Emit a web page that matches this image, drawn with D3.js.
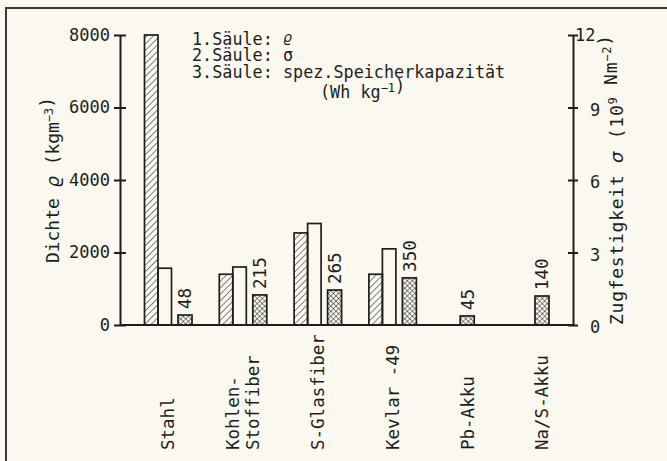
<!DOCTYPE html>
<html>
<head>
<meta charset="utf-8">
<script src="https://cdn.jsdelivr.net/npm/d3@7"></script>
<style>
  body { margin: 0; background: #faf8ef; }
  svg { display: block; }
  text { font-family: "DejaVu Sans Mono", "Liberation Mono", monospace; fill: #1e1e1e; }
  .greek { font-family: "DejaVu Sans", "Noto Sans", sans-serif; font-style: italic; }
</style>
</head>
<body>
<div id="chart"></div>
<script>
// categories (multi-line labels) and values
var categories = [["Stahl"], ["Kohlen-", "Stoffiber"], ["S-Glasfiber"], ["Kevlar -49"], ["Pb-Akku"], ["Na/S-Akku"]];
var density = [8000, 1400, 2540, 1400, null, null];        // kg m^-3, 1. Saeule
var strength = [2.35, 2.4, 4.2, 3.15, null, null];          // 10^9 N m^-2, 2. Saeule
var capacity = [48, 215, 265, 350, 45, 140];                // Wh/kg, label of 3. Saeule
var capacityBar = [275, 830, 965, 1300, 250, 800];          // drawn height of 3. Saeule, on density scale
var leftTicks = [0, 2000, 4000, 6000, 8000];
var rightTicks = [0, 3, 6, 9, 12];

var width = 667
  , height = 461
  , ink = "#1e1e1e"
  , paper = "#faf8ef"
  , barW = 13.5
  ;

var svg = d3.select("#chart").append("svg")
    .attr("width", width)
    .attr("height", height);

var defs = svg.append("defs");

defs.append("pattern")
    .attr("id", "hatch")
    .attr("patternUnits", "userSpaceOnUse")
    .attr("width", 4.6).attr("height", 4.6)
    .attr("patternTransform", "rotate(45)")
  .append("line")
    .attr("x1", 0).attr("y1", 0).attr("x2", 0).attr("y2", 4.6)
    .attr("stroke", ink).attr("stroke-width", 1.1);

var cross = defs.append("pattern")
    .attr("id", "cross")
    .attr("patternUnits", "userSpaceOnUse")
    .attr("width", 3.6).attr("height", 3.6)
    .attr("patternTransform", "rotate(45)");
cross.append("rect").attr("width", 3.6).attr("height", 3.6).attr("fill", paper);
cross.append("line").attr("x1", 0).attr("y1", 0).attr("x2", 0).attr("y2", 3.6)
    .attr("stroke", ink).attr("stroke-width", 1);
cross.append("line").attr("x1", 0).attr("y1", 0).attr("x2", 3.6).attr("y2", 0)
    .attr("stroke", ink).attr("stroke-width", 1);

// frame of the scanned figure
svg.append("path")
    .attr("d", "M6,461 L6,8 L667,8")
    .attr("fill", "none")
    .attr("stroke", "#3a3a3a")
    .attr("stroke-width", 2);

var x = d3.scalePoint()
    .domain(d3.range(categories.length))
    .range([168, 542]);

var yL = d3.scaleLinear().domain([0, 8000]).range([325, 35]);
var yR = d3.scaleLinear().domain([0, 12]).range([325, 35]);

var axisLeftX = 120, axisRightX = 573;

// bars
var gBars = svg.append("g");

density.forEach(function(v, i) {
  if (v == null) return;
  gBars.append("rect")
      .attr("x", x(i) - 23.5)
      .attr("y", yL(v))
      .attr("width", barW)
      .attr("height", yL(0) - yL(v))
      .attr("fill", "url(#hatch)")
      .attr("stroke", ink).attr("stroke-width", 1.7);
});

strength.forEach(function(v, i) {
  if (v == null) return;
  gBars.append("rect")
      .attr("x", x(i) - 10)
      .attr("y", yR(v))
      .attr("width", barW)
      .attr("height", yR(0) - yR(v))
      .attr("fill", "none")
      .attr("stroke", ink).attr("stroke-width", 1.7);
});

capacityBar.forEach(function(v, i) {
  var cx = density[i] == null ? x(i) : x(i) + 17;
  gBars.append("rect")
      .attr("x", cx - 7)
      .attr("y", yL(v))
      .attr("width", 14)
      .attr("height", yL(0) - yL(v))
      .attr("fill", "url(#cross)")
      .attr("stroke", ink).attr("stroke-width", 1.7);
  gBars.append("text")
      .attr("transform", "translate(" + cx + "," + (yL(v) - 6) + ") rotate(-90)")
      .attr("dy", "0.36em")
      .attr("font-size", 17.5)
      .text(capacity[i]);
});

// axes
function styleAxis(g) {
  g.attr("font-family", null).attr("font-size", null);
  g.select(".domain").attr("stroke", ink).attr("stroke-width", 2);
  g.selectAll(".tick line").attr("stroke", ink).attr("stroke-width", 2);
  g.selectAll(".tick text").attr("font-size", 17).attr("fill", ink);
}

var gLeft = svg.append("g")
    .attr("transform", "translate(" + axisLeftX + ",0)")
    .call(d3.axisLeft(yL).tickValues(leftTicks).tickFormat(d3.format("d"))
      .tickSizeInner(6).tickSizeOuter(0).tickPadding(4))
    .call(styleAxis);
gLeft.selectAll(".tick line").attr("x1", 6);

var gRight = svg.append("g")
    .attr("transform", "translate(" + axisRightX + ",0)")
    .call(d3.axisRight(yR).tickValues(rightTicks).tickFormat(d3.format("d"))
      .tickSizeInner(5).tickSizeOuter(0).tickPadding(12))
    .call(styleAxis);
gRight.selectAll(".tick line").attr("x1", -5);
gRight.selectAll(".tick text").attr("dy", "0.45em");
gRight.selectAll(".tick text").filter(function(d) { return d === 12; }).attr("dx", -15).attr("dy", "0.3em");

svg.append("line")
    .attr("x1", axisLeftX).attr("x2", axisRightX)
    .attr("y1", yL(0)).attr("y2", yL(0))
    .attr("stroke", ink).attr("stroke-width", 2);

// category labels
categories.forEach(function(lines, i) {
  var t = svg.append("text")
      .attr("transform", "translate(" + x(i) + ",450) rotate(-90)")
      .attr("font-size", 17.5);
  lines.forEach(function(line, k) {
    t.append("tspan")
        .attr("x", 0)
        .attr("dy", k === 0 ? (0.36 - (lines.length - 1) * 0.57) + "em" : "1.14em")
        .text(line);
  });
});

// text with superscripts / greek letters
function addRich(t, parts) {
  parts.forEach(function(p) {
    if (p.sup) {
      t.append("tspan").attr("font-size", 12).attr("dy", -6).text(p.sup);
      t.append("tspan").attr("dy", 6).text("");
    } else if (p.greek) {
      t.append("tspan").attr("class", "greek").text(p.greek);
    } else {
      t.append("tspan").text(p.t);
    }
  });
}

// axis titles
var tl = svg.append("text")
    .attr("transform", "translate(59,263) rotate(-90)")
    .attr("font-size", 18)
    .attr("textLength", 166)
    .attr("lengthAdjust", "spacing");
addRich(tl, [{t: "Dichte "}, {greek: "ϱ"}, {t: " (kgm"}, {sup: "−3"}, {t: ")"}]);

var tr = svg.append("text")
    .attr("transform", "translate(623,325) rotate(-90)")
    .attr("font-size", 18)
    .attr("textLength", 290)
    .attr("lengthAdjust", "spacing");
addRich(tr, [{t: "Zugfestigkeit "}, {greek: "σ"}, {t: "  (10"}, {sup: "9"}, {t: " Nm"}, {sup: "−2"}, {t: ")"}]);

// legend
var legendLines = ["1.Säule: ", "2.Säule: σ", "3.Säule: spez.Speicherkapazität"];
var gLegend = svg.append("g");
legendLines.forEach(function(s, i) {
  var t = gLegend.append("text")
      .attr("x", 192)
      .attr("y", 44.5 + i * 16.8)
      .attr("font-size", 16.8)
      .text(s);
  if (i === 0) {
    t.append("tspan").attr("class", "greek").attr("font-size", 14).attr("dy", -3).text("ϱ");
  }
});
var tu = gLegend.append("text")
    .attr("x", 320)
    .attr("y", 98)
    .attr("font-size", 16.8);
addRich(tu, [{t: "(Wh kg"}, {sup: "−1"}, {t: ")"}]);
</script>
</body>
</html>
